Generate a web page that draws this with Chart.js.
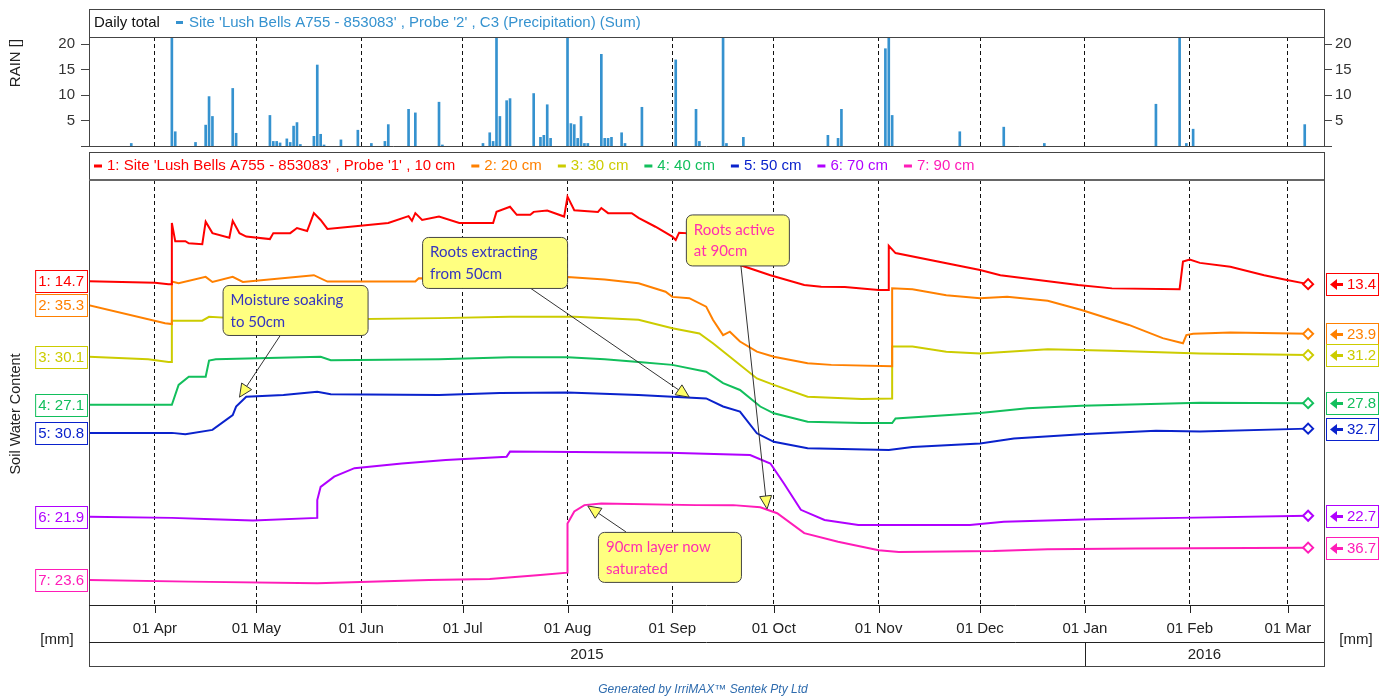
<!DOCTYPE html>
<html>
<head>
<meta charset="utf-8">
<script src="https://cdn.jsdelivr.net/npm/chart.js@4.4.0/dist/chart.umd.min.js"></script>
<style>
  html, body { margin: 0; padding: 0; background: #fff; }
  #wrap { position: relative; width: 1392px; height: 697px; }
  #wrap canvas { position: absolute; left: 0; top: 0; }
</style>
</head>
<body>
<div id="wrap">
  <canvas id="rainChart" width="1392" height="697"></canvas>
  <canvas id="soilChart" width="1392" height="697"></canvas>
</div>
<script>
/* ── Data ─────────────────────────────────────────────── */
const rainDates = ["2015-03-25","2015-04-06","2015-04-07","2015-04-13","2015-04-16","2015-04-17","2015-04-18","2015-04-24","2015-04-25",
  "2015-05-05","2015-05-06","2015-05-07","2015-05-08","2015-05-10","2015-05-11","2015-05-12","2015-05-13","2015-05-14","2015-05-18",
  "2015-05-19","2015-05-20","2015-05-21","2015-05-26","2015-05-31","2015-06-04","2015-06-08","2015-06-09","2015-06-15","2015-06-17",
  "2015-06-24","2015-06-25","2015-07-07","2015-07-09","2015-07-10","2015-07-11","2015-07-12","2015-07-14","2015-07-15","2015-07-22",
  "2015-07-24","2015-07-25","2015-07-26","2015-07-27","2015-08-01","2015-08-02","2015-08-03","2015-08-04","2015-08-05","2015-08-06",
  "2015-08-07","2015-08-11","2015-08-12","2015-08-13","2015-08-14","2015-08-17","2015-08-18","2015-08-23","2015-09-02","2015-09-08",
  "2015-09-09","2015-09-16","2015-09-17","2015-09-22","2015-10-17","2015-10-20","2015-10-21","2015-11-03","2015-11-04","2015-11-05",
  "2015-11-25","2015-12-08","2015-12-20","2016-01-22","2016-01-29","2016-01-31","2016-02-02","2016-03-06"];
const rainValues = [0.5,30,2.8,0.7,4.1,9.7,5.8,11.3,2.5,
  6.0,0.9,0.9,0.6,1.4,0.7,3.9,4.6,0.3,1.9,
  15.9,2.3,0.2,1.2,3.1,0.5,0.9,4.2,7.2,6.5,
  8.6,0.2,0.5,2.6,0.9,28,5.8,8.9,9.3,10.3,
  1.7,2.1,8.1,1.5,25,4.4,4.2,1.5,5.8,0.5,
  0.5,18.0,1.5,1.5,1.7,2.6,0.5,7.6,16.9,7.2,
  0.9,30,0.5,1.7,2.1,1.5,7.2,19.1,28,6.0,
  2.8,3.7,0.5,8.2,25,0.5,3.3,4.2];
const rainTicks = [5, 10, 15, 20];

// soil water traces, stacked display units (no y ticks on the original)
const probe10 = [["2015-03-12",76.2],["2015-04-01",75.8],["2015-04-05",75.5],["2015-04-06",75.5],["2015-04-06",89.9],["2015-04-07",85.6],
  ["2015-04-10",85.6],["2015-04-11",85.1],["2015-04-15",84.9],["2015-04-16",90.2],["2015-04-18",87.5],["2015-04-23",86.4],["2015-04-24",90.4],
  ["2015-04-26",87.5],["2015-04-28",86.7],["2015-05-05",86.1],["2015-05-06",87.5],["2015-05-11",87.5],["2015-05-13",88.7],["2015-05-16",88.0],
  ["2015-05-18",92.2],["2015-05-20",90.6],["2015-05-22",88.5],["2015-05-31",89.2],["2015-06-09",89.9],["2015-06-15",91.5],["2015-06-16",90.4],
  ["2015-06-17",92.2],["2015-06-19",90.6],["2015-06-24",91.4],["2015-06-30",89.9],["2015-07-10",89.9],["2015-07-11",92.5],["2015-07-15",93.7],
  ["2015-07-17",91.8],["2015-07-21",91.8],["2015-07-22",92.5],["2015-07-26",92.8],["2015-07-31",91.4],["2015-08-01",96.1],["2015-08-03",92.9],
  ["2015-08-10",92.5],["2015-08-11",93.4],["2015-08-13",92.2],["2015-08-20",92.2],["2015-08-22",91.1],["2015-08-27",89.0],["2015-09-01",86.7],
  ["2015-09-02",85.9],["2015-09-03",87.6],["2015-09-05",87.5],["2015-09-21",80.0],["2015-09-30",77.6],["2015-10-10",75.3],["2015-10-15",74.9],
  ["2015-10-22",74.8],["2015-11-01",74.1],["2015-11-04",74.1],["2015-11-04",84.5],["2015-11-06",82.8],["2015-12-01",78.8],["2015-12-07",77.6],
  ["2015-12-30",75.3],["2016-01-09",74.5],["2016-01-29",74.3],["2016-01-30",80.8],["2016-02-01",81.3],["2016-02-04",80.5],["2016-02-13",79.6],
  ["2016-02-23",77.6],["2016-02-29",76.6],["2016-03-07",75.5]];
const probe20 = [["2015-03-12",70.6],["2015-04-04",66.3],["2015-04-06",66.1],["2015-04-06",76.1],["2015-04-08",75.7],["2015-04-16",77.2],
  ["2015-04-18",76.0],["2015-04-24",77.2],["2015-04-27",76.0],["2015-05-18",77.6],["2015-05-22",76.1],["2015-06-17",76.1],["2015-06-18",76.9],
  ["2015-07-12",76.7],["2015-08-01",77.2],["2015-08-12",76.6],["2015-08-22",75.7],["2015-08-30",73.7],["2015-09-01",72.5],["2015-09-06",72.2],
  ["2015-09-11",70.2],["2015-09-13",67.1],["2015-09-16",63.5],["2015-09-18",64.3],["2015-09-21",62.0],["2015-09-26",59.6],["2015-10-01",58.4],
  ["2015-10-11",56.9],["2015-10-18",56.5],["2015-11-05",56.2],["2015-11-05",74.5],["2015-11-11",74.3],["2015-11-21",72.9],["2015-12-01",72.2],
  ["2015-12-09",72.5],["2015-12-21",71.6],["2015-12-31",69.4],["2016-01-14",65.9],["2016-01-24",62.8],["2016-01-30",61.6],["2016-01-31",63.5],
  ["2016-02-02",63.8],["2016-02-13",64.1],["2016-03-07",63.8]];
const probe30 = [["2015-03-12",58.4],["2015-03-30",57.8],["2015-04-05",57.2],["2015-04-06",57.2],["2015-04-06",66.9],["2015-04-15",66.9],
  ["2015-04-17",67.8],["2015-04-24",67.5],["2015-05-14",67.1],["2015-06-24",67.5],["2015-07-15",67.8],["2015-08-03",67.8],["2015-08-22",67.1],
  ["2015-09-01",65.1],["2015-09-09",63.9],["2015-09-13",61.6],["2015-09-18",58.4],["2015-09-26",53.3],["2015-10-01",51.8],["2015-10-11",49.0],
  ["2015-10-27",48.5],["2015-11-05",48.6],["2015-11-05",60.8],["2015-11-11",60.8],["2015-11-21",59.6],["2015-12-01",59.2],["2015-12-21",60.2],
  ["2016-01-09",59.8],["2016-02-04",59.2],["2016-03-07",58.8]];
const probe40 = [["2015-03-12",47.1],["2015-04-06",47.1],["2015-04-08",51.8],["2015-04-11",53.7],["2015-04-16",53.7],["2015-04-17",57.5],
  ["2015-04-19",57.8],["2015-05-20",58.4],["2015-05-23",57.6],["2015-06-24",57.8],["2015-07-15",58.3],["2015-08-01",58.3],["2015-08-12",57.8],
  ["2015-08-22",57.2],["2015-09-01",56.5],["2015-09-11",54.9],["2015-09-16",52.2],["2015-09-21",50.6],["2015-09-27",46.7],["2015-10-01",45.1],
  ["2015-10-11",43.1],["2015-10-27",42.8],["2015-11-05",42.8],["2015-11-06",43.9],["2015-12-01",45.2],["2015-12-15",46.3],["2015-12-31",46.9],
  ["2016-02-04",47.6],["2016-03-07",47.5]];
const probe50 = [["2015-03-12",40.5],["2015-04-06",40.5],["2015-04-10",40.2],["2015-04-18",41.2],["2015-04-24",44.7],["2015-04-25",46.7],
  ["2015-04-28",49.0],["2015-05-09",49.4],["2015-05-19",50.2],["2015-05-23",49.6],["2015-06-24",49.4],["2015-07-12",49.9],["2015-08-01",50.0],
  ["2015-08-22",49.4],["2015-09-01",49.0],["2015-09-11",48.6],["2015-09-16",46.7],["2015-09-21",45.5],["2015-09-26",40.4],["2015-10-01",38.4],
  ["2015-10-11",36.9],["2015-11-04",36.5],["2015-11-11",37.2],["2015-12-01",38.0],["2015-12-11",39.2],["2015-12-31",40.2],["2016-01-22",41.0],
  ["2016-02-04",40.8],["2016-03-07",41.5]];
const probe70 = [["2015-03-12",20.8],["2015-04-06",20.5],["2015-04-18",20.2],["2015-04-30",19.9],["2015-05-19",20.5],["2015-05-19",24.7],
  ["2015-05-20",27.8],["2015-05-24",30.2],["2015-05-30",32.2],["2015-06-13",33.3],["2015-06-26",34.1],["2015-07-14",34.9],["2015-07-15",36.1],
  ["2015-08-31",35.8],["2015-09-24",35.3],["2015-09-30",33.3],["2015-10-04",28.6],["2015-10-09",22.4],["2015-10-16",20.0],["2015-10-26",18.8],
  ["2015-11-28",18.8],["2015-12-08",19.6],["2016-01-03",20.2],["2016-01-29",20.5],["2016-03-07",21.0]];
const probe90 = [["2015-03-12",5.9],["2015-04-11",5.5],["2015-05-19",5.1],["2015-06-21",5.9],["2015-07-09",6.1],["2015-07-23",7.0],
  ["2015-08-01",7.6],["2015-08-01",19.2],["2015-08-03",22.0],["2015-08-06",23.5],["2015-08-11",23.9],["2015-09-08",23.5],["2015-09-19",23.5],
  ["2015-09-27",23.0],["2015-10-02",21.6],["2015-10-10",16.9],["2015-10-20",14.9],["2015-11-01",12.9],["2015-11-07",12.5],["2015-12-05",12.7],
  ["2015-12-21",13.1],["2016-01-16",13.3],["2016-03-07",13.5]];

const probes = [probe10, probe20, probe30, probe40, probe50, probe70, probe90];
const probeNames = ["1: Site 'Lush Bells A755 - 853083' , Probe '1' , 10 cm", "2: 20 cm", "3: 30 cm", "4: 40 cm", "5: 50 cm", "6: 70 cm", "7: 90 cm"];
const startLabels = [14.7, 35.3, 30.1, 27.1, 30.8, 21.9, 23.6];
const endLabels = [13.4, 23.9, 31.2, 27.8, 32.7, 22.7, 36.7];
const monthLabels = ["01 Apr","01 May","01 Jun","01 Jul","01 Aug","01 Sep","01 Oct","01 Nov","01 Dec","01 Jan","01 Feb","01 Mar"];
const yearLabels = ["2015", "2016"];

const notes = [
  { lines: ["Moisture soaking", "to 50cm"], ink: "blue", at: ["2015-04-21", 75.3], w: 145, h: 50, fromDx: 58, fromTop: false, to: ["2015-04-26", 48.9] },
  { lines: ["Roots extracting", "from 50cm"], ink: "blue", at: ["2015-06-19", 86.6], w: 145, h: 51, fromDx: 108, fromTop: false, to: ["2015-09-06", 48.9] },
  { lines: ["Roots active", "at 90cm"], ink: "pink", at: ["2015-09-05", 91.9], w: 103, h: 51, fromDx: 55, fromTop: false, to: ["2015-09-29", 22.6] },
  { lines: ["90cm layer now", "saturated"], ink: "pink", at: ["2015-08-10", 17.2], w: 143, h: 50, fromDx: 28, fromTop: true, to: ["2015-08-07", 23.3] },
];

/* ── Helpers ──────────────────────────────────────────── */
const FONT = '"Liberation Sans", Arial, sans-serif';
const NOTE_FONT = 'Lato, "Open Sans", sans-serif';
const colors = ["#ff0000", "#ff8000", "#cccc00", "#12bf5c", "#0a22cc", "#b000ff", "#ff1cb8"];
const noteInk = { blue: "#3535bf", pink: "#ff2fae" };
const RAIN_BLUE = "#3592cf";

const DAY0 = Date.UTC(2015, 0, 1);
const toDay = s => (Date.parse(s) - DAY0) / 864e5;
const X_MIN = toDay("2015-03-12") + 0.5;
const X_MAX = toDay("2016-03-12") - 0.3;
const monthTicks = monthLabels.map((_, i) => (Date.UTC(2015, 3 + i, 1) - DAY0) / 864e5);
const newYear = toDay("2016-01-01");

Chart.defaults.font.family = FONT;

const monthAxis = {
  type: "linear", min: X_MIN, max: X_MAX, offset: false,
  afterBuildTicks: s => { s.ticks = monthTicks.map(v => ({ value: v })); },
  afterFit: s => { s.height = 0; },
  ticks: { display: false },
  grid: { color: "#111", lineWidth: 1, drawTicks: false, offset: false },
  border: { display: false, dash: [4, 3] },
};

function arrow(ctx, x0, y0, x1, y1) {
  const ang = Math.atan2(y1 - y0, x1 - x0), L = 13, W = 6;
  const bx = x1 - L * Math.cos(ang), by = y1 - L * Math.sin(ang);
  ctx.strokeStyle = "#333";
  ctx.lineWidth = 1;
  ctx.beginPath(); ctx.moveTo(x0, y0); ctx.lineTo(bx, by); ctx.stroke();
  ctx.beginPath();
  ctx.moveTo(x1, y1);
  ctx.lineTo(bx + W * Math.sin(ang), by - W * Math.cos(ang));
  ctx.lineTo(bx - W * Math.sin(ang), by + W * Math.cos(ang));
  ctx.closePath();
  ctx.fillStyle = "#ffff66";
  ctx.fill(); ctx.stroke();
}

function hline(ctx, x0, x1, y) {
  ctx.beginPath(); ctx.moveTo(x0, y + 0.5); ctx.lineTo(x1, y + 0.5); ctx.stroke();
}
function vline(ctx, x, y0, y1) {
  ctx.beginPath(); ctx.moveTo(Math.round(x) + 0.5, y0); ctx.lineTo(Math.round(x) + 0.5, y1); ctx.stroke();
}

/* ── Rain panel ───────────────────────────────────────── */
const rainDecor = {
  id: "rainDecor",
  afterDraw(chart) {
    const { ctx, chartArea: a } = chart;
    ctx.save();
    ctx.strokeStyle = "#444";
    ctx.lineWidth = 1;
    ctx.strokeRect(a.left + 0.5, 9.5, a.right - a.left, a.top - 9);
    hline(ctx, a.left - 8, a.right + 8, a.bottom);

    ctx.font = "15px " + FONT;
    ctx.textBaseline = "middle";
    ctx.fillStyle = "#111";
    ctx.fillText("Daily total", a.left + 5, 23);
    ctx.fillStyle = RAIN_BLUE;
    ctx.fillRect(a.left + 87, 21, 7, 3);
    ctx.fillText("Site 'Lush Bells A755 - 853083' , Probe '2' , C3 (Precipitation) (Sum)", a.left + 100, 23);

    ctx.fillStyle = "#222";
    ctx.textAlign = "center";
    ctx.translate(16, 63);
    ctx.rotate(-Math.PI / 2);
    ctx.fillText("RAIN []", 0, 0);
    ctx.restore();
  }
};

const rainAxis = (pos, width, pad) => ({
  position: pos, min: 0, max: 21.4,
  afterBuildTicks: s => { s.ticks = rainTicks.map(v => ({ value: v })); },
  afterFit: s => { s.width = width; },
  ticks: { color: "#333", font: { size: 15 }, padding: pad },
  grid: { drawOnChartArea: false, tickLength: 8, color: "#444" },
  border: { color: "#444" },
});

new Chart(document.getElementById("rainChart"), {
  type: "bar",
  data: {
    datasets: [{
      data: rainDates.map((d, i) => ({ x: toDay(d), y: rainValues[i] })),
      backgroundColor: RAIN_BLUE,
      barThickness: 2,
      borderWidth: 0,
    }],
  },
  options: {
    responsive: false,
    animation: false,
    layout: { padding: { left: 0, right: 0, top: 37, bottom: 551 } },
    plugins: { legend: { display: false }, tooltip: { enabled: false } },
    scales: {
      x: monthAxis,
      y: rainAxis("left", 89, 6),
      yR: rainAxis("right", 68, 3),
    },
  },
  plugins: [rainDecor],
});

/* ── Soil water panel ─────────────────────────────────── */
const soilDecor = {
  id: "soilDecor",
  afterDraw(chart) {
    const { ctx, chartArea: a, scales: { x, y } } = chart;
    const L = a.left, R = a.right;
    ctx.save();

    // annotations
    notes.forEach(n => {
      const bx = x.getPixelForValue(toDay(n.at[0]));
      const by = y.getPixelForValue(n.at[1]);
      const sx = bx + n.fromDx, sy = n.fromTop ? by : by + n.h;
      arrow(ctx, sx, sy, x.getPixelForValue(toDay(n.to[0])), y.getPixelForValue(n.to[1]));
      ctx.beginPath();
      ctx.roundRect(bx + 0.5, by + 0.5, n.w, n.h, 6);
      ctx.fillStyle = "#ffff80";
      ctx.fill();
      ctx.strokeStyle = "#444";
      ctx.stroke();
      ctx.font = "15px " + NOTE_FONT;
      ctx.fillStyle = noteInk[n.ink];
      ctx.textBaseline = "middle";
      n.lines.forEach((t, i) => ctx.fillText(t, bx + 8, by + 15.5 + i * 21.5));
    });

    // frame and separators
    ctx.strokeStyle = "#444";
    ctx.lineWidth = 1;
    ctx.strokeRect(L + 0.5, 152.5, R - L, 514);
    ctx.lineWidth = 2;
    ctx.strokeStyle = "#666";
    ctx.beginPath(); ctx.moveTo(L, a.top); ctx.lineTo(R, a.top); ctx.stroke();
    ctx.lineWidth = 1;
    ctx.strokeStyle = "#222";
    hline(ctx, L, R, a.bottom);
    hline(ctx, L, R, 642);
    monthTicks.forEach(v => vline(ctx, x.getPixelForValue(v), a.bottom, a.bottom + 8));
    const ny = x.getPixelForValue(newYear);
    vline(ctx, ny, 642, 666);

    // legend row
    ctx.font = "15px " + FONT;
    ctx.textBaseline = "middle";
    let lx = L + 5;
    probeNames.forEach((name, i) => {
      ctx.fillStyle = colors[i];
      ctx.fillRect(lx, 164.5, 8, 3);
      ctx.fillText(name, lx + 13, 166);
      lx += 13 + ctx.measureText(name).width + 16;
    });

    // month and year labels, units
    ctx.fillStyle = "#222";
    ctx.textAlign = "center";
    monthTicks.forEach((v, i) => ctx.fillText(monthLabels[i], x.getPixelForValue(v), a.bottom + 24));
    ctx.fillText(yearLabels[0], (L + ny) / 2, 655);
    ctx.fillText(yearLabels[1], (ny + R) / 2, 655);
    ctx.fillText("[mm]", 57, 640);
    ctx.fillText("[mm]", 1356, 640);

    // start / end value tags
    probes.forEach((p, i) => {
      const col = colors[i];
      const y0 = Math.round(y.getPixelForValue(p[0][1]));
      const t0 = `${i + 1}: ${startLabels[i].toFixed(1)}`;
      const w0 = ctx.measureText(t0).width + 6;
      ctx.fillStyle = "#fff";
      ctx.fillRect(L - 2 - w0, y0 - 11, w0, 23);
      ctx.strokeStyle = col;
      ctx.strokeRect(L - 2 - w0 + 0.5, y0 - 11 + 0.5, w0, 22);
      ctx.fillStyle = col;
      ctx.textAlign = "left";
      ctx.fillText(t0, L - 2 - w0 + 3, y0 + 1);

      const y1 = Math.round(y.getPixelForValue(p[p.length - 1][1]));
      const rx = R + 2;
      ctx.fillStyle = "#fff";
      ctx.fillRect(rx, y1 - 11, 52, 23);
      ctx.strokeStyle = col;
      ctx.strokeRect(rx + 0.5, y1 - 11 + 0.5, 52, 22);
      ctx.fillStyle = col;
      ctx.beginPath();
      ctx.moveTo(rx + 4, y1 + 0.5);
      ctx.lineTo(rx + 11, y1 - 5);
      ctx.lineTo(rx + 11, y1 + 6);
      ctx.closePath();
      ctx.fill();
      ctx.fillRect(rx + 10, y1 - 1, 7, 3);
      ctx.fillText(endLabels[i].toFixed(1), rx + 21, y1 + 1);
    });

    // axis title + footer
    ctx.fillStyle = "#222";
    ctx.textAlign = "center";
    ctx.font = "14.5px " + FONT;
    ctx.save();
    ctx.translate(16, 414);
    ctx.rotate(-Math.PI / 2);
    ctx.fillText("Soil Water Content", 0, 0);
    ctx.restore();
    ctx.font = "italic 12px " + FONT;
    ctx.fillStyle = "#2f6cae";
    ctx.fillText("Generated by IrriMAX\u2122 Sentek Pty Ltd", 703, 690);
    ctx.restore();
  }
};

new Chart(document.getElementById("soilChart"), {
  type: "line",
  data: {
    datasets: probes.map((p, i) => ({
      data: p.map(([d, v]) => ({ x: toDay(d), y: v })),
      borderColor: colors[i],
      borderWidth: 2,
      tension: 0,
      pointStyle: "rectRot",
      pointRadius: c => (c.dataIndex === p.length - 1 ? 5 : 0),
      pointBorderWidth: 2,
      pointBorderColor: colors[i],
      pointBackgroundColor: "#fff",
    })),
  },
  options: {
    responsive: false,
    animation: false,
    layout: { padding: { left: 89, right: 68, top: 180, bottom: 92 } },
    plugins: { legend: { display: false }, tooltip: { enabled: false } },
    scales: {
      x: monthAxis,
      y: { display: false, min: 0, max: 100 },
    },
  },
  plugins: [soilDecor],
});
</script>
</body>
</html>
